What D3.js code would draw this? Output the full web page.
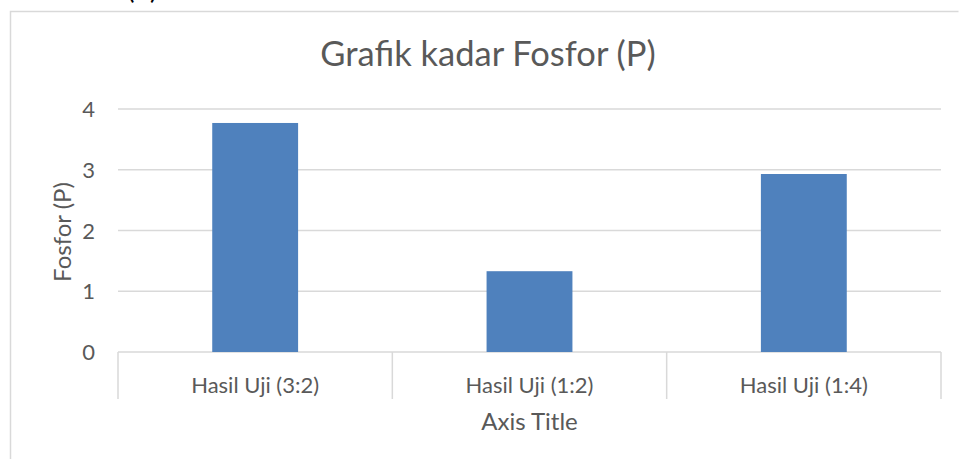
<!DOCTYPE html>
<html>
<head>
<meta charset="utf-8">
<script src="https://cdn.jsdelivr.net/npm/d3@7"></script>
<style>
  body { margin: 0; background: #fff; }
  svg { display: block; }
  text { font-family: Lato, "Open Sans", sans-serif; fill: #595959; }
  .grid line { stroke: #d9d9d9; stroke-width: 1.5; }
  .bt-axis path, .bt-axis line { stroke: #d9d9d9; stroke-width: 1.5; }
</style>
</head>
<body>
<div id="chart"></div>
<script>
// data
var kategori = ["Hasil Uji (3:2)", "Hasil Uji (1:2)", "Hasil Uji (1:4)"];
var fosfor = [3.77, 1.33, 2.93];
var yTicks = [0, 1, 2, 3, 4];

var width = 959, height = 459;
var margin = {top: 109, right: 18, bottom: 107, left: 118};

var svg = d3.select('#chart').append('svg')
    .attr('width', width).attr('height', height);

// teks terpotong di atas (sisa dari halaman dokumen)
svg.append('text')
    .attr('x', 157).attr('y', -1)
    .attr('text-anchor', 'end')
    .style('fill', '#000').style('font-size', '26px')
    .text('Fosfor (P)');

// bingkai grafik
svg.append('path')
    .attr('d', 'M10.5,' + height + 'V11.5H958.5')
    .attr('fill', 'none').attr('stroke', '#d9d9d9').attr('stroke-width', 1.5);

var xs = d3.scaleBand().domain(kategori).range([margin.left, width - margin.right]).padding(0);
var ys = d3.scaleLinear().domain([0, 4]).range([height - margin.bottom, margin.top]);

// garis grid
svg.append('g').attr('class', 'grid')
    .selectAll('line').data(yTicks.filter(function(d){ return d > 0; })).enter().append('line')
    .attr('x1', xs.range()[0]).attr('x2', xs.range()[1])
    .attr('y1', function(d){ return ys(d); }).attr('y2', function(d){ return ys(d); });

// label sumbu y
svg.append('g').selectAll('text').data(yTicks).enter().append('text')
    .attr('x', 95)
    .attr('y', function(d){ return ys(d) + 8; })
    .attr('text-anchor', 'end')
    .style('font-size', '22px')
    .text(function(d){ return d; });

// sumbu x dengan pemisah kategori
var axis = svg.append('g').attr('class', 'bt-axis');
axis.append('line')
    .attr('x1', xs.range()[0]).attr('x2', xs.range()[1])
    .attr('y1', ys(0)).attr('y2', ys(0));
var sep = kategori.map(function(d){ return xs(d); }).concat([xs.range()[1]]);
axis.selectAll('.sep').data(sep).enter().append('line')
    .attr('class', 'sep')
    .attr('x1', function(d){ return d; }).attr('x2', function(d){ return d; })
    .attr('y1', ys(0)).attr('y2', ys(0) + 47);
axis.selectAll('text').data(kategori).enter().append('text')
    .attr('x', function(d){ return xs(d) + xs.bandwidth() / 2; })
    .attr('y', 392.5)
    .attr('text-anchor', 'middle')
    .style('font-size', '22px')
    .text(function(d){ return d; });

// batang
var bw = xs.bandwidth() * 0.313;
svg.append('g').selectAll('rect').data(fosfor).enter().append('rect')
    .attr('x', function(d, i){ return xs(kategori[i]) + (xs.bandwidth() - bw) / 2; })
    .attr('y', function(d){ return ys(d); })
    .attr('width', bw)
    .attr('height', function(d){ return ys(0) - ys(d); })
    .attr('fill', '#4f81bd');

// judul, di tengah bingkai
svg.append('text')
    .attr('x', 488)
    .attr('y', 66)
    .attr('text-anchor', 'middle')
    .style('font-size', '34.5px')
    .text('Grafik kadar Fosfor (P)');

svg.append('text')
    .attr('x', (xs.range()[0] + xs.range()[1]) / 2)
    .attr('y', 430)
    .attr('text-anchor', 'middle')
    .style('font-size', '24px')
    .text('Axis Title');

svg.append('text')
    .attr('transform', 'translate(71,232) rotate(-90)')
    .attr('text-anchor', 'middle')
    .style('font-size', '24px')
    .text('Fosfor (P)');
</script>
</body>
</html>
